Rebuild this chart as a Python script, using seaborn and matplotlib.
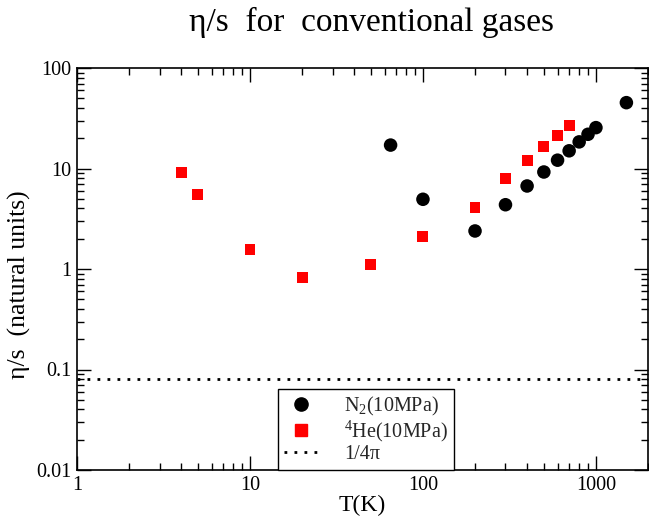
import matplotlib
matplotlib.use("Agg")
import matplotlib.pyplot as plt
from matplotlib.ticker import LogLocator, FixedLocator, FixedFormatter, NullFormatter
from matplotlib.lines import Line2D
import seaborn as sns
import pandas as pd
import numpy as np

# ---- data ----
n2_T = [65, 100, 200, 300, 400, 500, 600, 700, 800, 900, 1000, 1500]
n2_eta_s = [17.1, 4.94, 2.39, 4.36, 6.70, 9.23, 12.1, 15.0, 18.4, 21.9, 25.5, 45.2]
he_T = [4, 5, 10, 20, 50, 100, 200, 300, 400, 500, 600, 700]
he_eta_s = [9.2, 5.5, 1.57, 0.83, 1.10, 2.10, 4.07, 7.92, 11.9, 16.4, 21.4, 26.7]
kss_bound = 1 / (4 * np.pi)
series_labels = [r"N$_2$(10MPa)", r"$^{4}$He(10MPa)", "1/4π"]
x_ticks = [1, 10, 100, 1000]
x_tick_labels = ["1", "10", "100", "1000"]
y_ticks = [0.01, 0.1, 1, 10, 100]
y_tick_labels = ["0.01", "0.1", "1", "10", "100"]

sns.set_style("ticks")
plt.rcParams["font.family"] = ["Liberation Serif", "DejaVu Serif"]
plt.rcParams["mathtext.fontset"] = "custom"
plt.rcParams["mathtext.rm"] = "Liberation Serif"
plt.rcParams["mathtext.it"] = "Liberation Serif:italic"
plt.rcParams["mathtext.default"] = "regular"

df = pd.concat([
    pd.DataFrame({"T": n2_T, "eta_s": n2_eta_s, "gas": series_labels[0]}),
    pd.DataFrame({"T": he_T, "eta_s": he_eta_s, "gas": series_labels[1]}),
])

fig = plt.figure(figsize=(6.49, 5.21), dpi=100)
ax = fig.add_axes([77 / 649, 51 / 521, 571 / 649, 402 / 521])

sns.scatterplot(data=df, x="T", y="eta_s", hue="gas", style="gas",
                palette={series_labels[0]: "black", series_labels[1]: "red"},
                markers={series_labels[0]: "o", series_labels[1]: "s"},
                size="gas", sizes={series_labels[0]: 95, series_labels[1]: 62},
                edgecolor="none", linewidth=0, ax=ax, legend=False, zorder=3)

ax.axhline(kss_bound, color="black", linewidth=2.0, linestyle=(0, (1, 2.6)))

ax.set_xscale("log")
ax.set_yscale("log")
ax.set_xlim(1, 2000)
ax.set_ylim(0.01, 100)

ax.xaxis.set_major_locator(FixedLocator(x_ticks))
ax.xaxis.set_major_formatter(FixedFormatter(x_tick_labels))
ax.yaxis.set_major_locator(FixedLocator(y_ticks))
ax.yaxis.set_major_formatter(FixedFormatter(y_tick_labels))
ax.xaxis.set_minor_locator(LogLocator(base=10, subs=np.arange(2, 10), numticks=20))
ax.yaxis.set_minor_locator(LogLocator(base=10, subs=np.arange(2, 10), numticks=20))
ax.xaxis.set_minor_formatter(NullFormatter())
ax.yaxis.set_minor_formatter(NullFormatter())

ax.tick_params(which="both", direction="in", top=True, right=True, color="black",
               width=1.0, labelsize=14.5, labelcolor="black")
ax.tick_params(which="major", length=10, pad=4)
ax.tick_params(which="minor", length=5)
for s in ax.spines.values():
    s.set_color("black")
    s.set_linewidth(1.2)

ax.set_xlabel("T(K)", fontsize=17, color="black", labelpad=0)
ax.set_ylabel("η/s  (natural units)", fontsize=18.5, color="black")
ax.yaxis.set_label_coords(-0.08, 0.46)
fig.text(372 / 649, 1 - 22 / 521, "η/s  for  conventional gases", fontsize=24,
         ha="center", va="center", color="black")

handles = [
    Line2D([], [], marker="o", color="black", linestyle="none", markersize=9.5),
    Line2D([], [], marker="s", color="red", linestyle="none", markersize=8),
    Line2D([], [], color="black", linewidth=2.0, linestyle=(0, (1, 2.6))),
]
leg = ax.legend(handles, series_labels, loc="lower left",
                bbox_to_anchor=(0.352, 0.0), fontsize=14.5, frameon=True,
                fancybox=False, framealpha=1, edgecolor="black",
                borderpad=0.3, labelspacing=0.05, handlelength=1.7,
                handletextpad=1.3, borderaxespad=0.0)
leg.get_frame().set_linewidth(1.0)

fig.savefig("out.png", dpi=100)
